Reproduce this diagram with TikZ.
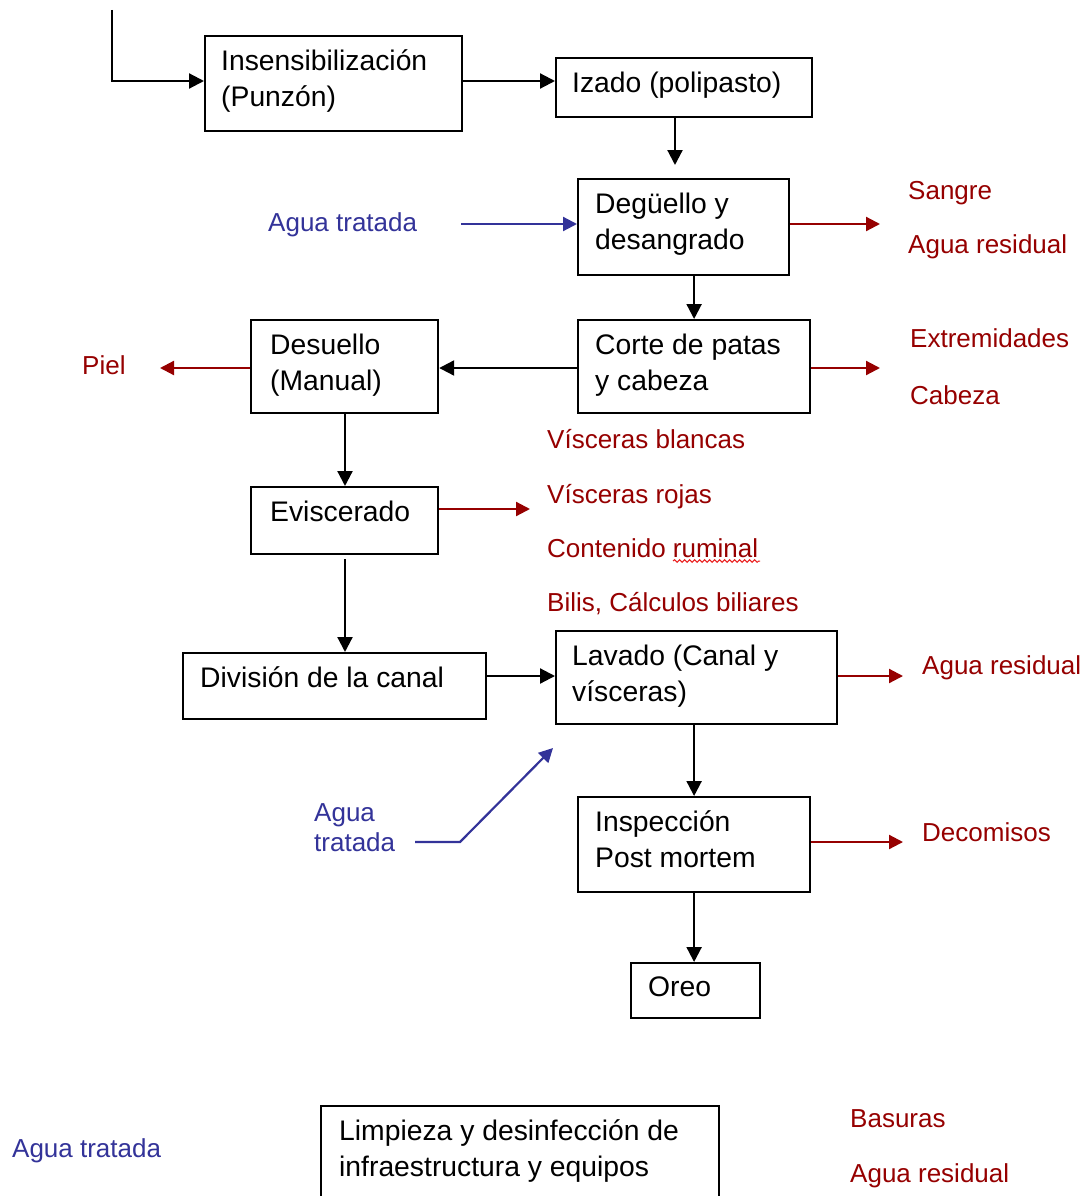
\documentclass[tikz,border=0pt]{standalone}
\usepackage{fontspec}
\setmainfont{Liberation Sans}
\usetikzlibrary{arrows.meta,decorations.pathmorphing}
\definecolor{aguablue}{RGB}{51,51,153}
\definecolor{resred}{RGB}{150,0,0}
\definecolor{spellred}{RGB}{235,30,30}
\newcommand{\toprule}{\rule{0pt}{26pt}}
\begin{document}
\begin{tikzpicture}[x=1pt,y=-1pt,
 frame/.style={draw=black, line width=2.2pt, rectangle, anchor=north west, inner sep=0pt},
 btext/.style={inner sep=0pt, anchor=north west, align=left, font=\fontsize{28.3}{35.5}\selectfont},
 lbl/.style={inner sep=0pt, anchor=base west, align=left, font=\fontsize{26}{30}\selectfont},
 wat/.style={lbl, text=aguablue},
 res/.style={lbl, text=resred},
 flow/.style={draw=black, line width=2.2pt, -{Triangle[length=15pt,width=15pt]}},
 wflow/.style={draw=aguablue, line width=2.2pt, -{Triangle[length=14pt,width=14pt]}},
 rflow/.style={draw=resred, line width=2.2pt, -{Triangle[length=14pt,width=14pt]}}]
\useasboundingbox[fill=white] (0,0) rectangle (1090,1196);
\begin{scope}
\clip (0,0) rectangle (1090,1196);
% box frames
\node[frame, minimum width=257pt, minimum height=95pt] (ins) at (204,35) {};
\node[frame, minimum width=256pt, minimum height=59pt] (iz) at (555,57) {};
\node[frame, minimum width=211pt, minimum height=96pt] (deg) at (577,178) {};
\node[frame, minimum width=232pt, minimum height=93pt] (cor) at (577,319) {};
\node[frame, minimum width=187pt, minimum height=93pt] (des) at (250,319) {};
\node[frame, minimum width=187pt, minimum height=67pt] (evi) at (250,486) {};
\node[frame, minimum width=303pt, minimum height=66pt] (div) at (182,652) {};
\node[frame, minimum width=281pt, minimum height=93pt] (lav) at (555,630) {};
\node[frame, minimum width=232pt, minimum height=95pt] (insp) at (577,796) {};
\node[frame, minimum width=129pt, minimum height=55pt] (oreo) at (630,962) {};
\node[frame, minimum width=398pt, minimum height=115pt] (limp) at (320,1105) {};
% box texts
\node[btext] (ins-t) at ([shift={(17pt,-9.5pt)}]ins.north west) {\toprule Insensibilización\\(Punzón)};
\node[btext] (iz-t) at ([shift={(17pt,-9.5pt)}]iz.north west) {\toprule Izado (polipasto)};
\node[btext] (deg-t) at ([shift={(18pt,-9.5pt)}]deg.north west) {\toprule Degüello y\\desangrado};
\node[btext] (cor-t) at ([shift={(18pt,-9.5pt)}]cor.north west) {\toprule Corte de patas\\y cabeza};
\node[btext] (des-t) at ([shift={(20pt,-9.5pt)}]des.north west) {\toprule Desuello\\(Manual)};
\node[btext] (evi-t) at ([shift={(20pt,-9.5pt)}]evi.north west) {\toprule Eviscerado};
\node[btext] (div-t) at ([shift={(18pt,-9.5pt)}]div.north west) {\toprule División de la canal};
\node[btext] (lav-t) at ([shift={(17pt,-9.5pt)}]lav.north west) {\toprule Lavado (Canal y\\vísceras)};
\node[btext] (insp-t) at ([shift={(18pt,-9.5pt)}]insp.north west) {\toprule Inspección\\Post mortem};
\node[btext] (oreo-t) at ([shift={(18pt,-8.5pt)}]oreo.north west) {\toprule Oreo};
\node[btext] (limp-t) at ([shift={(19pt,-9.5pt)}]limp.north west) {\toprule Limpieza y desinfección de\\infraestructura y equipos};
% labels
\node[wat] (w1) at (268,231) {Agua tratada};
\node[res] (r1) at (908,199) {Sangre};
\node[res] (r2) at (908,253) {Agua residual};
\node[res] (r3) at (82,374) {Piel};
\node[res] (r4) at (910,347) {Extremidades};
\node[res] (r5) at (910,404) {Cabeza};
\node[res] (r6) at (547,448) {Vísceras blancas};
\node[res] (r7) at (547,503) {Vísceras rojas};
\node[res] (r8) at (547,557) {Contenido ruminal};
\node[res] (r9) at (547,611) {Bilis, Cálculos biliares};
\node[res] (r10) at (922,674) {Agua residual};
\node[wat] (w2) at (314,851) {Agua\\tratada};
\node[res] (r11) at (922,841) {Decomisos};
\node[wat] (w3) at (12,1157) {Agua tratada};
\node[res] (r12) at (850,1127) {Basuras};
\node[res] (r13) at (850,1182) {Agua residual};
% spell-check underline
\draw[spellred, line width=1pt, decorate, decoration={snake, amplitude=1.3pt, segment length=5pt}] (673,561) -- (760,561);
% coordinates
\coordinate (in0) at (112,10);
\coordinate (in1) at (112,81);
\coordinate (t1) at (675,165);
\coordinate (wa1) at (461,224);
\coordinate (o1) at (880,224);
\coordinate (o2) at (160,368);
\coordinate (o3) at (880,368);
\coordinate (o4) at (530,509);
\coordinate (o5) at (903,676);
\coordinate (b0) at (415,842);
\coordinate (b1) at (460,842);
\coordinate (b2) at (553,748);
\coordinate (o6) at (903,842);
\coordinate (vx) at (345,0);
% black flow
\draw[flow] (in0) -- (in1) -- (in1 -| ins.west);
\draw[flow] (ins.east |- in1) -- (in1 -| iz.west);
\draw[flow] (iz.south -| t1) -- (t1);
\draw[flow] (deg.south -| cor.north) -- (cor.north);
\draw[flow] (cor.west |- o3) -- (o3 -| des.east);
\draw[flow] (des.south -| vx) -- (evi.north -| vx);
\draw[flow] ([yshift=-4pt]evi.south -| vx) -- (div.north -| vx);
\draw[flow] (div.east |- o5) -- (o5 -| lav.west);
\draw[flow] (lav.south -| cor.north) -- (insp.north -| cor.north);
\draw[flow] (insp.south -| cor.north) -- (oreo.north -| cor.north);
% water in
\draw[wflow] (wa1) -- (wa1 -| deg.west);
\draw[wflow] (b0) -- (b1) -- (b2);
% residues out
\draw[rflow] (deg.east |- o1) -- (o1);
\draw[rflow] (des.west |- o2) -- (o2);
\draw[rflow] (cor.east |- o3) -- (o3);
\draw[rflow] (evi.east |- o4) -- (o4);
\draw[rflow] (lav.east |- o5) -- (o5);
\draw[rflow] (insp.east |- o6) -- (o6);
\end{scope}
\end{tikzpicture}
\end{document}
